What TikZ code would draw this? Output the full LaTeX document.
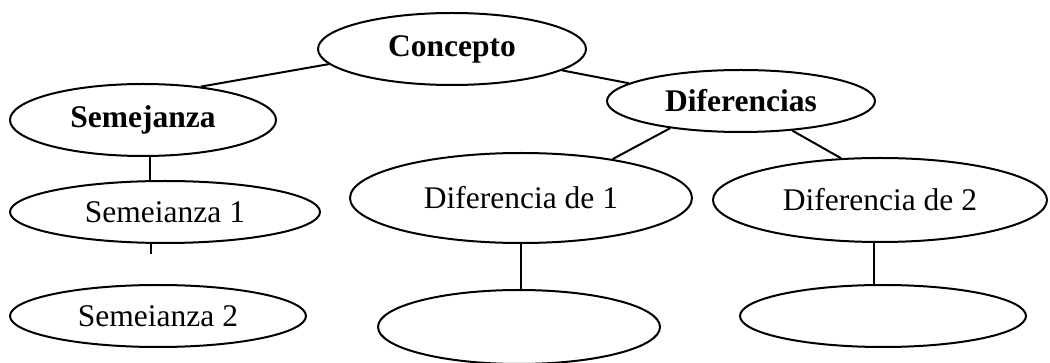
\documentclass[tikz,border=0pt]{standalone}
\usepackage{fontspec}
\setmainfont{Liberation Serif}
\usetikzlibrary{shapes.geometric}
\tikzset{
  bubble/.style={draw,ellipse,line width=1pt,inner sep=0pt,font=\fontsize{15.75}{18}\selectfont},
  headbubble/.style={bubble,font=\fontsize{15.75}{18}\selectfont\bfseries},
  link/.style={line width=1pt}
}
\begin{document}
\begin{tikzpicture}[x=0.5pt,y=-0.5pt]
\useasboundingbox (0,0) rectangle (1050,363);
% Top
    \node[headbubble,minimum width=134pt,minimum height=36pt] (con) at (452,49) {Concepto};
% Left branch
    \node[headbubble,minimum width=133pt,minimum height=36pt] (sem) at (143,120) {Semejanza};
    \node[bubble,minimum width=155pt,minimum height=31pt] (s1) at (165,212) {Semeianza 1};
    \node[bubble,minimum width=148pt,minimum height=31pt] (s2) at (158,316) {Semeianza 2};
% Right branch
    \node[headbubble,minimum width=134pt,minimum height=31pt] (dif) at (741,101) {Diferencias};
    \node[bubble,minimum width=171pt,minimum height=45pt] (d1) at (521,198) {Diferencia de 1};
    \node[bubble,minimum width=167pt,minimum height=42pt] (d2) at (880,200) {Diferencia de 2};
    \node[bubble,minimum width=141pt,minimum height=37pt] (b1) at (519,327) {};
    \node[bubble,minimum width=143pt,minimum height=31pt] (b2) at (883,316) {};
% Links
    \draw[link] (con.187) -- (sem.30);
    \draw[link] (con.349) -- (dif.171);
    \draw[link] (dif.201) -- (d1.23);
    \draw[link] (dif.330) -- (d2.133);
    \draw[link] (sem.280) -- (sem.280 |- s1.north);
    \coordinate (stub) at (152,254);
    \draw[link] (s1.247) -- (s1.247 |- stub);
    \draw[link] (d1.south) -- (d1.south |- b1.north);
    \draw[link] (d2.262) -- (d2.262 |- b2.north);
\end{tikzpicture}
\end{document}
